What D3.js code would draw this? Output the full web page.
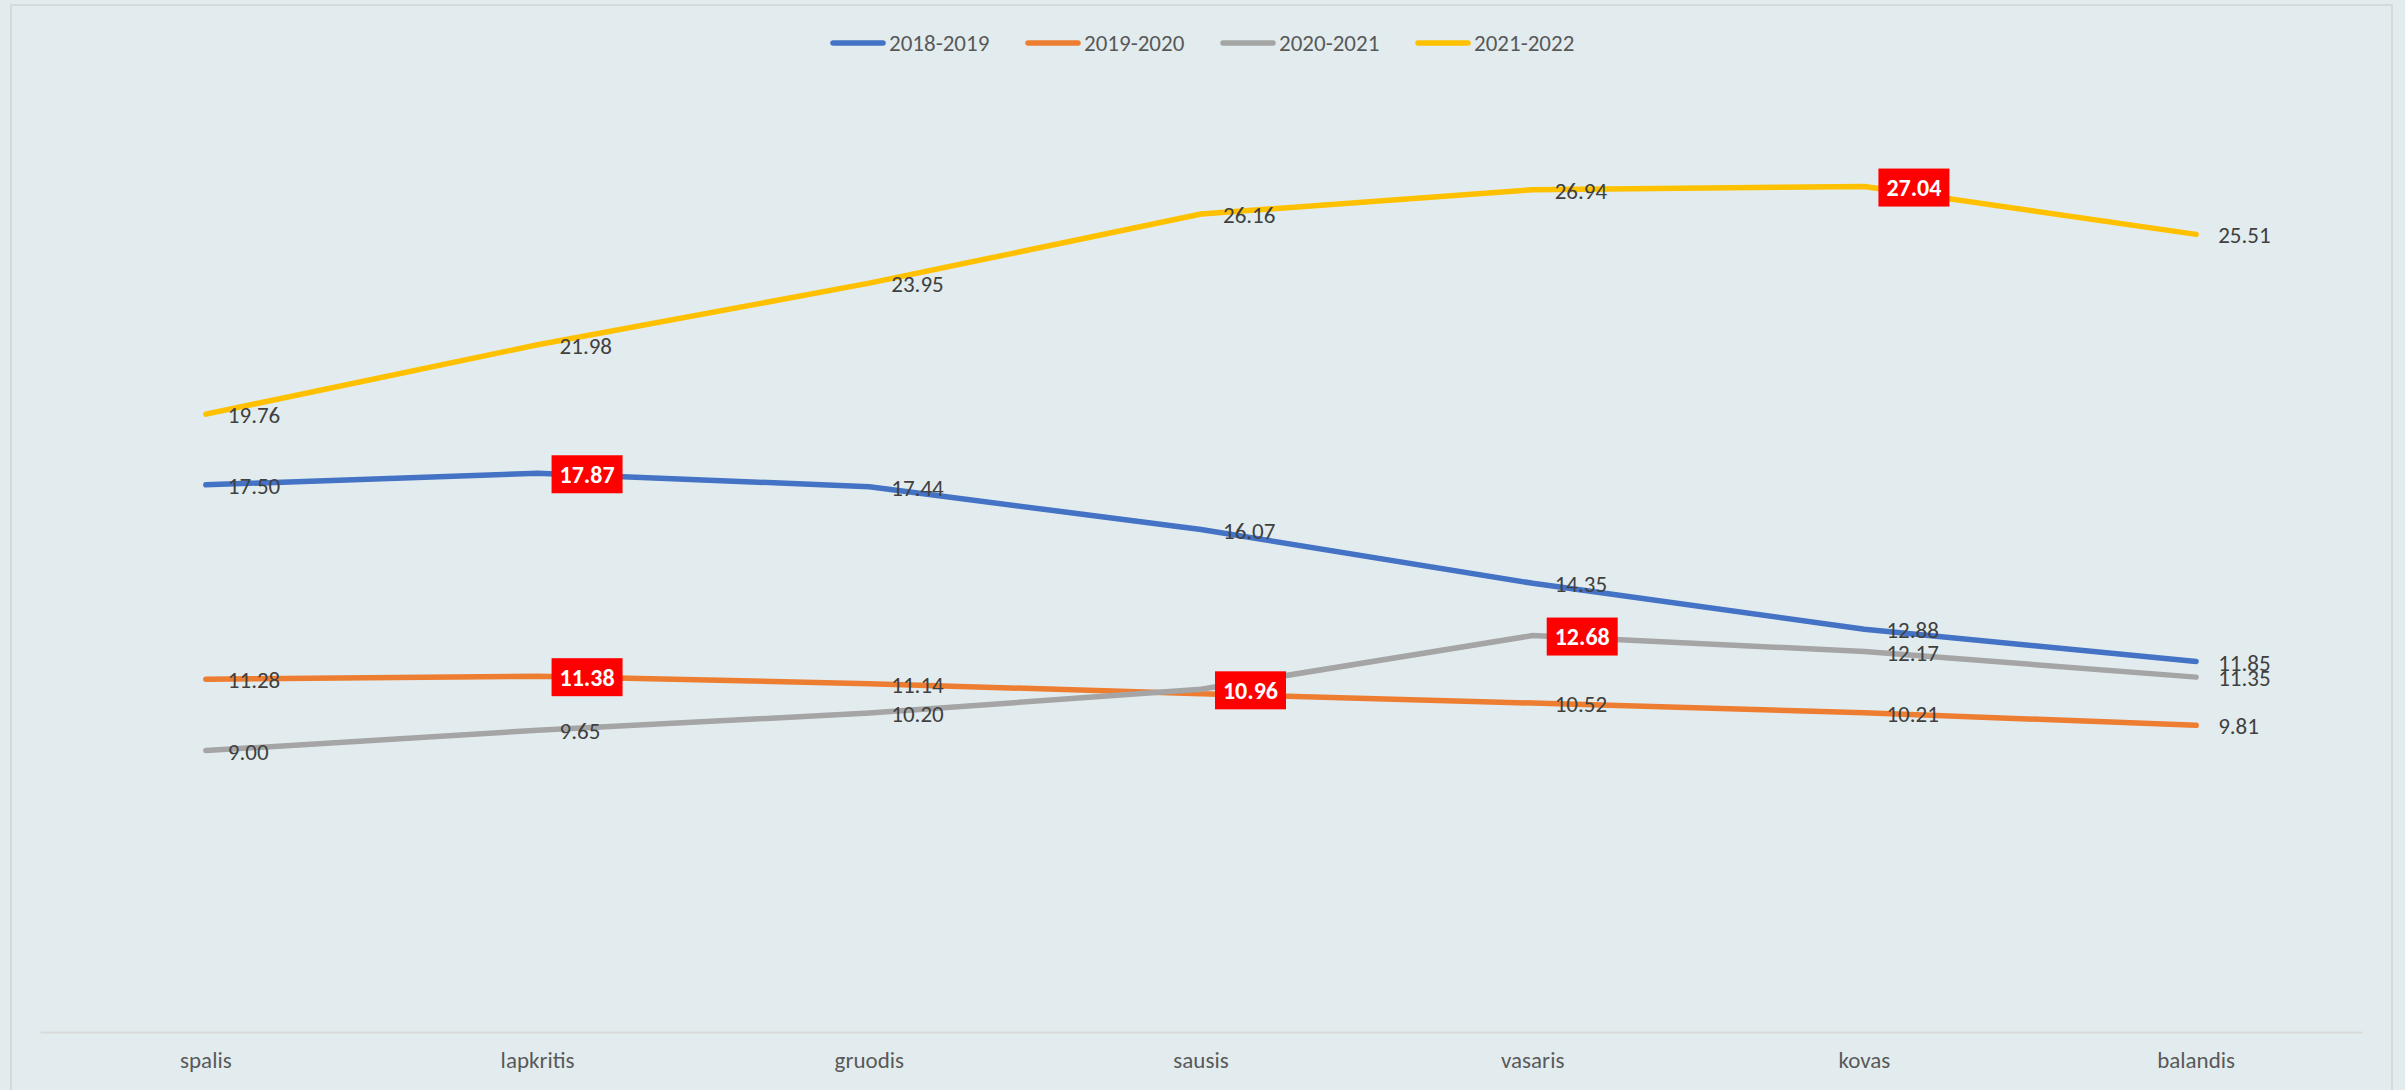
<!DOCTYPE html>
<html>
<head>
<meta charset="utf-8">
<script src="https://d3js.org/d3.v7.min.js"></script>
<style>
  body { margin: 0; background: #e2ecee; }
  text { font-family: Carlito, "Liberation Sans Narrow", "DejaVu Sans Condensed", sans-serif; }
</style>
</head>
<body>
<script>
// months (x categories)
var months = ["spalis", "lapkritis", "gruodis", "sausis", "vasaris", "kovas", "balandis"];

// series
var seriesNames = ["2018-2019", "2019-2020", "2020-2021", "2021-2022"];
var colors = ["#4472c4", "#ed7d31", "#a5a5a5", "#ffc000"];

var v2018 = [17.50, 17.87, 17.44, 16.07, 14.35, 12.88, 11.85];
var v2019 = [11.28, 11.38, 11.14, 10.82, 10.52, 10.21, 9.81];
var v2020 = [9.00, 9.65, 10.20, 10.96, 12.68, 12.17, 11.35];
var v2021 = [19.76, 21.98, 23.95, 26.16, 26.94, 27.04, 25.51];

// which points get the red box label
var hi2018 = [1];
var hi2019 = [1];
var hi2020 = [3, 4];
var hi2021 = [5];

// labels covered by a box in the original (not shown)
var hidden2019 = [3];

var yDomain = [0, 30];

var w = 2405, h = 1090;

var series = [
    {name: seriesNames[0], color: colors[0], values: v2018, hi: hi2018, hidden: []},
    {name: seriesNames[1], color: colors[1], values: v2019, hi: hi2019, hidden: hidden2019},
    {name: seriesNames[2], color: colors[2], values: v2020, hi: hi2020, hidden: []},
    {name: seriesNames[3], color: colors[3], values: v2021, hi: hi2021, hidden: []}
];

var svg = d3.select("body").append("svg")
    .attr("width", w)
    .attr("height", h)
    .style("display", "block");

svg.append("rect")
    .attr("width", w).attr("height", h)
    .attr("fill", "#e2ecee");

// chart frame
svg.append("rect")
    .attr("x", 11).attr("y", 5)
    .attr("width", 2381).attr("height", 1100)
    .attr("fill", "none")
    .attr("stroke", "#d6d9da")
    .attr("stroke-width", 2);

var xScale = d3.scaleBand()
    .domain(months)
    .range([40, 2362]);

var yScale = d3.scaleLinear()
    .domain(yDomain)
    .range([1032, 94]);

function px(i) { return xScale(months[i]) + xScale.bandwidth() / 2; }

// x axis
var xAxis = d3.axisBottom(xScale).tickSize(0).tickPadding(20);
var gx = svg.append("g")
    .attr("transform", "translate(0," + yScale(0) + ")")
    .call(xAxis);
gx.select(".domain").attr("stroke", "#d9d9d9").attr("stroke-width", 2);
gx.selectAll("text")
    .attr("font-size", 23)
    .attr("fill", "#595959")
    .style("font-family", null);

// lines
var line = d3.line()
    .x(function (d, i) { return px(i); })
    .y(function (d) { return yScale(d); });

svg.selectAll(".series")
    .data(series)
    .enter().append("path")
    .attr("class", "series")
    .attr("d", function (s) { return line(s.values); })
    .attr("fill", "none")
    .attr("stroke", function (s) { return s.color; })
    .attr("stroke-width", 5.5)
    .attr("stroke-linecap", "round")
    .attr("stroke-linejoin", "round");

// plain labels
series.forEach(function (s) {
    var idx = d3.range(s.values.length).filter(function (i) {
        return s.hi.indexOf(i) < 0 && s.hidden.indexOf(i) < 0;
    });
    svg.selectAll(null)
        .data(idx)
        .enter().append("text")
        .attr("x", function (i) { return px(i) + 22; })
        .attr("y", function (i) { return yScale(s.values[i]) + 1; })
        .attr("dy", "0.35em")
        .attr("font-size", 23)
        .attr("fill", "#404040")
        .text(function (i) { return s.values[i].toFixed(2); });
});

// red boxed labels on top
series.forEach(function (s) {
    s.hi.forEach(function (i) {
        var d = s.values[i];
        var g = svg.append("g")
            .attr("transform", "translate(" + (px(i) + 14) + "," + (yScale(d) + 1) + ")");
        g.append("rect")
            .attr("x", 0).attr("y", -19)
            .attr("width", 71).attr("height", 38)
            .attr("fill", "#ff0000");
        g.append("text")
            .attr("x", 35.5).attr("y", 0)
            .attr("dy", "0.35em")
            .attr("text-anchor", "middle")
            .attr("font-size", 24)
            .attr("font-weight", "bold")
            .attr("fill", "#ffffff")
            .text(d.toFixed(2));
    });
});

// legend
var legend = svg.append("g").attr("transform", "translate(831,43)");
var item = legend.selectAll("g")
    .data(series)
    .enter().append("g")
    .attr("transform", function (d, i) { return "translate(" + (i * 195) + ",0)"; });
item.append("line")
    .attr("x1", 2).attr("x2", 52)
    .attr("stroke", function (d) { return d.color; })
    .attr("stroke-width", 5.5)
    .attr("stroke-linecap", "round");
item.append("text")
    .attr("x", 58)
    .attr("dy", "0.35em")
    .attr("font-size", 23)
    .attr("fill", "#595959")
    .text(function (d) { return d.name; });
</script>
</body>
</html>
